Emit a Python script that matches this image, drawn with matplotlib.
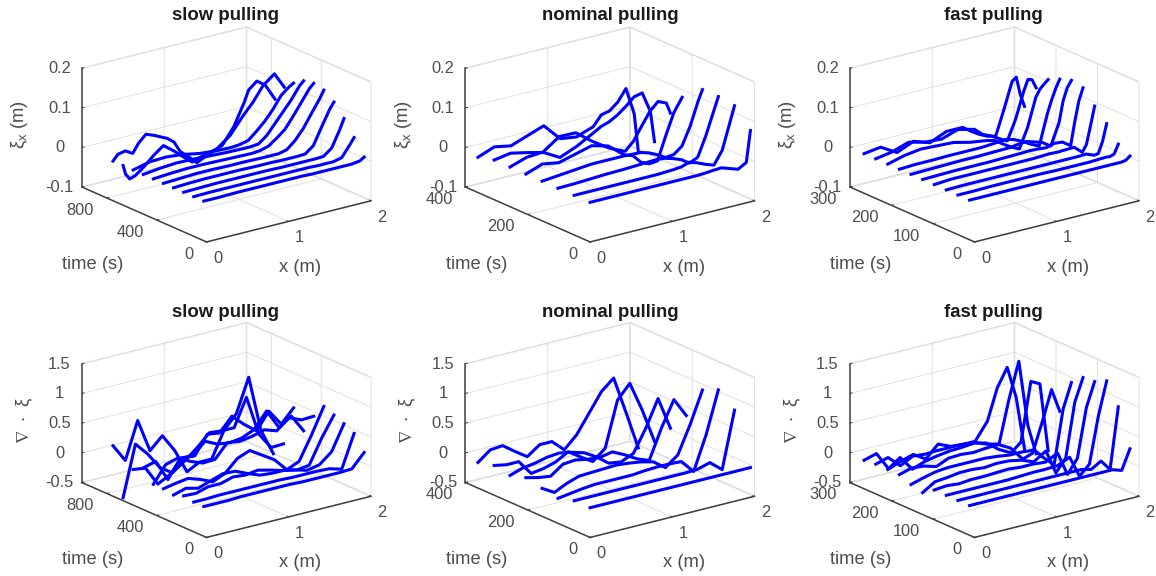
import matplotlib
matplotlib.use("Agg")
import matplotlib.pyplot as plt

plt.rcParams['font.family'] = ['Liberation Sans', 'DejaVu Sans']
plt.rcParams['mathtext.fontset'] = 'dejavusans'
plt.rcParams['mathtext.default'] = 'regular'

titles = ['slow pulling', 'nominal pulling', 'fast pulling']

# time of each curve per pulling speed (s)
t_slow = [22, 103, 184, 265, 346, 427, 508, 589, 670, 751]
t_nominal = [0, 51, 103, 154, 206, 257, 308, 360]
t_fast = [12, 40, 68, 97, 125, 153, 181, 209, 238, 266]

ylim_slow, yticks_slow = 1000, [0, 400, 800]
ylim_nominal, yticks_nominal = 400, [0, 200, 400]
ylim_fast, yticks_fast = 300, [0, 100, 200, 300]

# x positions (m)
x_xi = [0, .2, .4, .6, .8, 1, 1.2, 1.3, 1.4, 1.5, 1.6, 1.7, 1.8, 1.9, 1.95]
x_xi_fast = [0, .2, .4, .6, .8, 1, 1.2, 1.3, 1.4, 1.5, 1.6, 1.7, 1.8, 1.85, 1.9, 1.95]
x_div = [0, .15, .3, .45, .6, .75, .9, 1.05, 1.2, 1.35, 1.5, 1.65, 1.8, 1.95]
x_div_fast = [0, .15, .3, .45, .6, .75, .9, 1.05, 1.2, 1.35, 1.5, 1.62, 1.74, 1.85, 1.95]

# the two last slow curves wiggle more, so they were read at more places
x_slow_8 = [0, .03, .08, .15, .25, .37, .49, .61, .71, .84, .98, 1.14, 1.3, 1.46, 1.58, 1.7, 1.84, 1.9, 1.96]
x_slow_9 = [0, .06, .15, .24, .31, .4, .5, .66, .74, .82, .92, 1.02, 1.12, 1.22, 1.33, 1.47, 1.59, 1.65, 1.75, 1.85, 1.97]
x_xi_slow = [x_xi] * 8 + [x_slow_8, x_slow_9]

xi_slow = [
    [0, 0, .001, .001, .001, .001, .001, 0, 0, 0, 0, 0, 0, .003, .01],
    [0, .001, .001, .001, .001, .001, .001, .001, .001, 0, 0, 0, .005, .033, .048],
    [0, .001, .002, .002, .002, .002, .001, .001, .001, .001, .001, .002, .018, .06, .085],
    [0, .002, .003, .003, .003, .002, .002, .001, .001, .001, .002, .018, .06, .1, .115],
    [0, .002, .004, .004, .003, .003, .002, .002, .002, .007, .025, .05, .083, .115, .134],
    [0, .003, .005, .005, .004, .003, .002, .004, .01, .025, .042, .07, .1, .13, .14],
    [0, .005, .008, .007, .005, .003, .002, .002, .004, .02, .045, .07, .095, .125, .135],
    [0, .01, .012, .008, 0, -.004, -.005, -.003, .002, .02, .04, .065, .095, .112, .118],
    [0, -.023, -.038, -.033, -.017, .006, .025, .006, -.012, -.035, -.025, -.017, .008, .05, .078, .113, .136, .116, .096],
    [0, .014, .018, .007, .029, .047, .039, .023, .01, -.019, -.037, -.057, -.047, -.039, -.029, .011, .063, .094, .111, .096, .054],
]

xi_nominal = [
    [0, 0, 0, 0, 0, 0, 0, 0, .001, .003, .004, -.003, -.01, .002, .08],
    [0, 0, 0, 0, 0, 0, .002, .004, .011, .004, -.005, -.012, .02, .09, .125],
    [0, .001, .003, .005, .006, .008, .01, .008, .002, -.006, -.02, -.01, .04, .1, .13],
    [0, .004, .008, .012, .012, .012, .01, .004, -.006, -.018, -.016, 0, .045, .105, .13],
    [0, .015, .008, .019, .03, .019, -.014, -.021, -.043, -.052, -.05, .008, .062, .095],
    [0, .014, .017, .046, .045, .013, -.014, -.024, -.033, -.013, .02, .052, .072, .063, .035],
    [0, .007, -.002, -.012, -.035, -.018, .005, .017, .024, .036, .052, .071, .076, .024, -.055],
    [-.011, .005, -.003, .012, .027, -.016, -.022, -.014, -.007, .018, .023, .04, .069, 0, -.098],
]

xi_fast = [
    [0, 0, 0, 0, 0, 0, 0, 0, 0, 0, 0, 0, 0, 0, .002, .01],
    [0, 0, .001, .001, .001, .001, 0, 0, 0, 0, 0, .001, .002, .001, .005, .027],
    [0, .001, .001, .001, .001, .001, .001, .001, .001, .001, .001, .002, -.006, -.004, .024, .066],
    [0, .003, .003, .003, .003, .003, .003, .004, .005, .004, .005, .006, -.012, .005, .05, .097],
    [0, .001, .002, .002, .002, .003, .004, .005, .004, .002, .008, .006, -.008, .05, .1, .13],
    [0, .001, .002, .003, .003, .004, .005, .008, .01, .004, -.003, -.017, .037, .09, .12, .136],
    [0, .002, .002, .003, .003, .003, .006, .008, .002, -.008, -.02, -.03, .047, .078, .105, .126],
    [0, .011, .017, .015, .013, .003, -.003, -.008, -.022, -.035, -.045, .004, .075, .093, .103, .112],
    [0, .007, .021, .011, .008, .022, .012, -.006, -.015, -.027, -.038, .011, .077, .104, .101, .078],
    [0, .006, -.018, 0, -.014, .004, .004, -.011, -.024, -.034, -.039, .023, .089, .097, .05, .018],
]

div_slow = [
    [0, 0, 0, .01, .01, .01, .01, .01, 0, 0, 0, 0, .01, .235],
    [0, 0, .01, .01, .01, .01, .01, .01, 0, 0, 0, -.01, -.07, .48],
    [.03, .02, .08, .08, .14, .12, .15, .1, .04, 0, -.06, -.02, .15, .57],
    [-.03, .03, -.02, .05, .12, .11, .02, -.06, -.08, -.08, -.13, -.1, .3, .64],
    [0, .04, .07, 0, -.09, 0, .2, .28, .15, .02, -.2, -.11, .28, .71],
    [0, .28, .34, .23, .15, .16, .39, .36, .39, .45, .38, .55, .46, .47],
    [.2, .26, -.1, .21, .19, .39, .29, .26, .29, .38, .64, .31, .45, .15],
    [.1, .07, -.25, -.14, .09, .07, .38, .35, .58, .39, .23, .51, .24, .46],
    [-.45, .4, .18, -.1, -.24, -.09, .08, .28, .26, .26, .72, .05, -.23, -.22],
    [.35, .05, .67, .11, .31, .01, -.4, -.29, -.29, .14, .37, .93, -.02, -.46],
]

div_nominal = [
    [0, 0, 0, 0, 0, 0, 0, 0, 0, 0, 0, 0, 0, 0],
    [0, 0, 0, 0, 0, 0, 0, 0, 0, 0, .01, .07, -.1, .85],
    [-.08, -.05, -.02, 0, 0, 0, 0, .02, .03, .03, .02, -.2, .36, 1.07],
    [-.03, -.15, -.05, .02, .03, .04, .05, .03, 0, -.05, -.2, -.04, .42, .95],
    [.03, -.02, -.05, .1, .12, .08, .06, .1, 0, -.12, -.2, .3, .72, .4],
    [-.05, .02, .05, .1, .12, .08, .02, -.1, -.26, -.29, -.2, .17, .62, .07],
    [0, -.04, -.04, -.29, -.26, -.2, -.08, -.22, -.35, -.18, .58, .81, .31, -.27],
    [-.07, .09, .11, -.04, -.18, -.03, -.03, -.22, -.02, .29, .6, .78, .15, -.5],
]

div_fast = [
    [0, 0, 0, 0, 0, 0, 0, 0, 0, 0, 0, 0, 0, -.05, .28],
    [0, 0, 0, 0, 0, 0, 0, 0, 0, 0, 0, -.04, .06, -.12, .9],
    [0, 0, 0, 0, 0, 0, .01, .02, .02, .03, .12, -.24, -.08, .7, 1.25],
    [0, .02, 0, .02, .02, .03, .04, .02, .02, 0, .1, -.3, -.07, .75, 1.15],
    [-.13, 0, .02, .05, .05, .03, .05, .04, 0, -.08, .05, -.36, -.15, .75, 1.13],
    [-.08, -.02, .03, .05, .05, .05, .05, .03, 0, 0, -.02, -.2, -.35, .55, .96],
    [0, .06, .04, -.02, .07, .08, .06, .08, .09, -.02, -.26, -.2, .3, .79, .39],
    [0, .15, -.1, -.02, .02, .05, .06, .08, .03, -.13, -.24, -.1, .88, .8, -.36],
    [0, .06, -.13, -.02, -.04, -.03, -.03, -.03, -.05, -.13, -.18, .53, 1.13, .01, -.5],
    [-.02, .04, -.27, -.19, -.13, -.26, -.06, -.15, -.17, -.17, .12, .64, .94, .39, -.5],
]

zticks_xi = [-0.1, 0, 0.1, 0.2]
zlabels_xi = ['-0.1', '0', '0.1', '0.2']
zticks_div = [-0.5, 0, 0.5, 1, 1.5]
zlabels_div = ['-0.5', '0', '0.5', '1', '1.5']

panels = [
    (0, 0, t_slow, ylim_slow, yticks_slow, x_xi_slow, xi_slow),
    (0, 1, t_nominal, ylim_nominal, yticks_nominal, [x_xi] * 8, xi_nominal),
    (0, 2, t_fast, ylim_fast, yticks_fast, [x_xi_fast] * 10, xi_fast),
    (1, 0, t_slow, ylim_slow, yticks_slow, [x_div] * 10, div_slow),
    (1, 1, t_nominal, ylim_nominal, yticks_nominal, [x_div] * 8, div_nominal),
    (1, 2, t_fast, ylim_fast, yticks_fast, [x_div_fast] * 10, div_fast),
]

W, H = 1156, 576
centers_x = [226.5, 610, 994.5]
centers_y = [134.5, 430]
title_x = [225, 610, 993]
title_y = [16, 312.5]
size = 308.7

fig = plt.figure(figsize=(W / 100, H / 100), dpi=100)

for row, col, times, ymax, yticks, xs, curves in panels:
    left = centers_x[col] - 0.5135 * size
    bottom = H - (centers_y[row] + 0.5135 * size)
    ax = fig.add_axes([left / W, bottom / H, size / W, size / H], projection='3d')
    ax.patch.set_visible(False)
    ax.set_proj_type('ortho')
    ax.view_init(elev=19.4, azim=-127)
    ax.set_box_aspect((206, 207, 126))

    for t, x, z in zip(times, xs, curves):
        ax.plot(x[:len(z)], [t] * len(z), z, color=(0, 0, 1), lw=2.2, solid_joinstyle='round')

    ax.set_xlim(0, 2)
    ax.set_ylim(0, ymax)
    ax.set_xticks([0, 1, 2])
    ax.set_yticks(yticks)
    if row == 0:
        ax.set_zlim(-0.1, 0.2)
        ax.set_zticks(zticks_xi)
        ax.set_zticklabels(zlabels_xi)
        zlab = r'$\xi_x$ (m)'
        zpad = 4
    else:
        ax.set_zlim(-0.5, 1.5)
        ax.set_zticks(zticks_div)
        ax.set_zticklabels(zlabels_div)
        zlab = r'$\nabla\ \cdot\ \xi$'
        zpad = 2

    for axis in (ax.xaxis, ax.yaxis, ax.zaxis):
        axis.set_pane_color((1, 1, 1, 1))
        axis.pane.set_edgecolor('0.87')
        axis.line.set_color('0.25')
        axis.line.set_linewidth(1.1)
        axis.set_rotate_label(False)
        axis._axinfo['grid'].update(color='0.88', linewidth=0.7)
        axis._axinfo['tick'].update(inward_factor=0.0, outward_factor=0.15, linewidth={True: 0.7, False: 0.5})
    ax.tick_params(axis='both', labelsize=11.8, labelcolor='0.3', color='0.25')
    ax.tick_params(axis='z', labelsize=11.8, labelcolor='0.3', pad=1)
    ax.tick_params(axis='x', pad=-2)
    ax.tick_params(axis='y', pad=1)

    for lab in ax.xaxis.get_ticklabels():
        lab.set_ha('left')
    for lab in ax.yaxis.get_ticklabels():
        lab.set_ha('right')
        lab.set_va('center')
    for lab in ax.zaxis.get_ticklabels():
        lab.set_va('center_baseline')

    ax.xaxis._axinfo['label']['ha'] = 'right'
    ax.set_xlabel('x (m)', fontsize=13.2, color='0.3', rotation=0, labelpad=9.5)
    ax.set_ylabel('time (s)', fontsize=13.2, color='0.3', rotation=0, labelpad=15)
    ax.set_zlabel(zlab, fontsize=13.2, color='0.3', rotation=90, labelpad=zpad)

    fig.text(title_x[col] / W, 1 - title_y[row] / H, titles[col], fontsize=13.4,
             fontweight='bold', color='0.1', ha='center', va='center')

fig.savefig('out.png', dpi=100)
